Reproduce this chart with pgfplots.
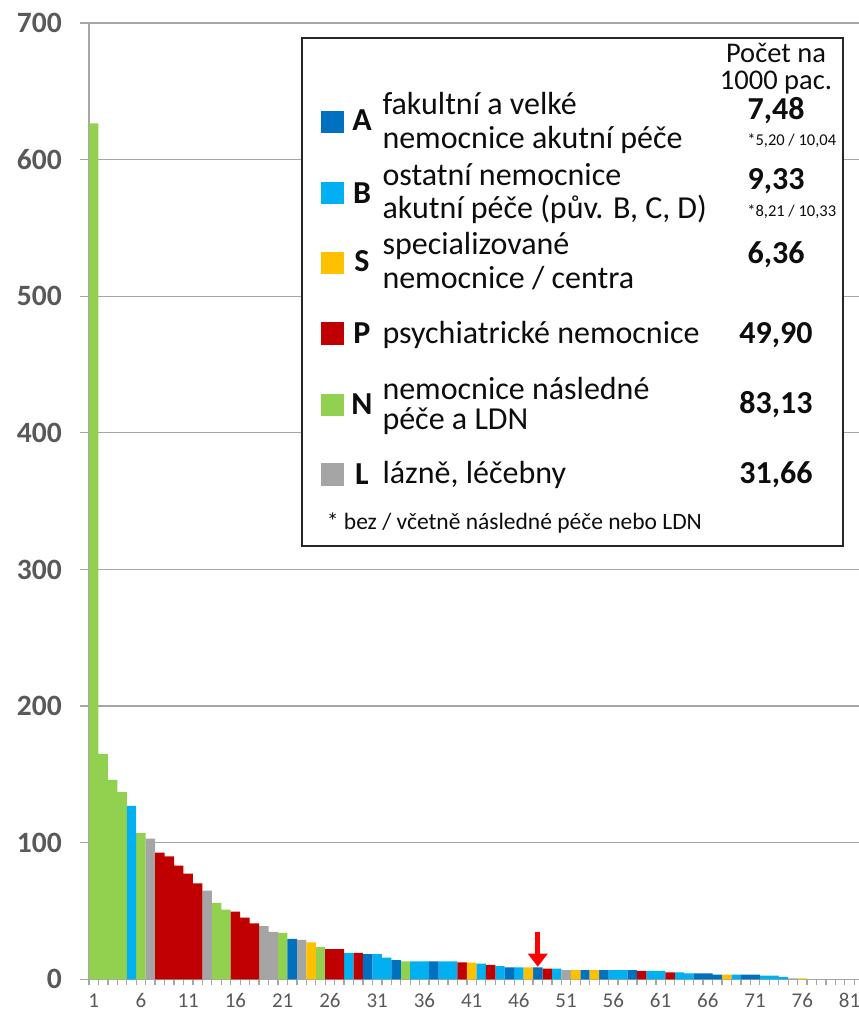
\documentclass[border=0pt]{standalone}
\usepackage{fontspec}
\setmainfont{Carlito}
\usepackage{pgfplots}
\pgfplotsset{compat=1.18}
\usetikzlibrary{arrows.meta}
\definecolor{cA}{HTML}{0070C0}
\definecolor{cB}{HTML}{00B0F0}
\definecolor{cS}{HTML}{FFC000}
\definecolor{cP}{HTML}{C00000}
\definecolor{cN}{HTML}{92D050}
\definecolor{cL}{HTML}{A5A5A5}
\definecolor{gridc}{HTML}{A6A6A6}
\definecolor{tickc}{HTML}{595959}
\definecolor{boxc}{HTML}{262626}
\definecolor{txtc}{HTML}{0D0D0D}
\newcommand\fmain{\fontsize{32}{34}\selectfont}
\newcommand\fnum{\fontsize{32}{34}\selectfont\bfseries}
\newcommand\fhead{\fontsize{28.5}{28}\selectfont}
\newcommand\fsmall{\fontsize{16.5}{18}\selectfont}
\newcommand\ffoot{\fontsize{23.5}{26}\selectfont}
\begin{document}
\begin{tikzpicture}
\begin{axis}[
  at={(89pt,33.7pt)}, anchor=south west,
  scale only axis, width=770pt, height=956.3pt,
  xmin=0.5, xmax=82, ymin=0, ymax=700,
  axis x line*=bottom, axis y line*=left,
  axis line style={draw=gridc, line width=1.3pt},
  ymajorgrids, grid style={draw=gridc, line width=1.3pt},
  ytick={0,100,...,700},
  xtick={1,6,...,81},
  minor xtick={0.5,1.5,...,81.5},
  tick align=outside,
  major tick length=9pt, minor tick length=6pt,
  tick style={draw=gridc, line width=1.3pt},
  major x tick style={draw=none},
  /pgf/number format/assume math mode=true,
  yticklabel style={font=\fontsize{29.5}{29}\selectfont\bfseries, text=tickc, anchor=east, inner sep=0pt, xshift=-18pt},
  xticklabel style={font=\fontsize{21}{21}\selectfont, text=tickc, anchor=north, inner sep=0pt, yshift=-5pt},
  clip=false,
]
\addplot[ybar, bar width=1, fill=cN, draw=none] coordinates {(1,626.6)(2,165)(3,146)(4,137)(6,107)(14,56)(15,51)(21,34)(25,23.5)(34,13.2)};
\addplot[ybar, bar width=1, fill=cB, draw=none] coordinates {(5,127)(28,19.4)(31,18.5)(32,15.8)(35,13.2)(36,13.2)(38,13.2)(39,13.2)(42,11.4)(44,9.7)(46,8.8)(50,7.8)(56,6.8)(57,6.8)(60,6.1)(61,6.1)(63,5.1)(64,4.4)(69,3.4)(72,2.7)(73,2.7)(74,1.7)};
\addplot[ybar, bar width=1, fill=cL, draw=none] coordinates {(7,103)(13,65)(19,39)(20,34.8)(23,28.8)(51,6.8)(75,0.7)};
\addplot[ybar, bar width=1, fill=cP, draw=none] coordinates {(8,92.7)(9,90)(10,83.2)(11,77.3)(12,70.3)(16,49.5)(17,45.1)(18,41)(26,22)(27,22)(29,19.4)(40,12.4)(43,10.5)(49,7.8)(59,6.1)(62,5.1)};
\addplot[ybar, bar width=1, fill=cA, draw=none] coordinates {(22,29.5)(30,18.5)(33,14)(37,13.2)(45,8.8)(48,8.8)(53,6.8)(55,6.8)(58,6.8)(65,4.4)(66,4.4)(67,3.4)(70,3.4)(71,3.4)};
\addplot[ybar, bar width=1, fill=cS, draw=none] coordinates {(24,27.1)(41,12.2)(47,8.8)(52,6.8)(54,6.8)(68,3.4)(76,0.7)};
\draw[red, line width=5pt, -{Triangle[width=19pt,length=13pt]}] (axis cs:48,34.8) -- (axis cs:48,9.2);
\end{axis}
% legend box
\draw[draw=boxc, line width=2.2pt, fill=white] (302.3pt,974.7pt) rectangle (842.7pt,467pt);
\fill[cA] (320.7pt,879.7pt) rectangle (344.3pt,902.3pt);
\fill[cB] (320.7pt,809pt) rectangle (344.3pt,831.3pt);
\fill[cS] (320.7pt,738.7pt) rectangle (344.3pt,761.3pt);
\fill[cP] (320.7pt,668pt) rectangle (344.3pt,690.7pt);
\fill[cN] (320.7pt,597pt) rectangle (344.3pt,619pt);
\fill[cL] (320.7pt,527pt) rectangle (344.3pt,549.7pt);
\begin{scope}[every node/.style={inner sep=0pt, text=txtc}]
\node[anchor=base, font=\fnum] at (362pt,882pt) {A};
\node[anchor=base, font=\fnum] at (362pt,809.7pt) {B};
\node[anchor=base, font=\fnum] at (362pt,741.3pt) {S};
\node[anchor=base, font=\fnum] at (362pt,669.7pt) {P};
\node[anchor=base, font=\fnum] at (362pt,598pt) {N};
\node[anchor=base, font=\fnum] at (362pt,528pt) {L};
\node[anchor=base west, font=\fmain] at (382.3pt,898.7pt) {fakultní a velké};
\node[anchor=base west, font=\fmain] at (382.3pt,864.7pt) {nemocnice akutní péče};
\node[anchor=base west, font=\fmain] at (382.3pt,827.3pt) {ostatní nemocnice};
\node[anchor=base west, font=\fmain] at (382.3pt,794pt) {akutní péče (pův. B, C, D)};
\node[anchor=base west, font=\fmain] at (382.3pt,758pt) {specializované};
\node[anchor=base west, font=\fmain] at (382.3pt,724pt) {nemocnice / centra};
\node[anchor=base west, font=\fmain] at (382.3pt,669.7pt) {psychiatrické nemocnice};
\node[anchor=base west, font=\fmain] at (382.3pt,613.7pt) {nemocnice následné};
\node[anchor=base west, font=\fmain] at (382.3pt,583.7pt) {péče a LDN};
\node[anchor=base west, font=\fmain] at (382.3pt,529pt) {lázně, léčebny};
\node[anchor=base west, font=\ffoot] at (326.7pt,483.7pt) {* bez / včetně následné péče nebo LDN};
\node[anchor=base, font=\fhead] at (776pt,950.7pt) {Počet na};
\node[anchor=base, font=\fhead] at (776pt,923pt) {1000 pac.};
\node[anchor=base, font=\fnum] at (776pt,893.7pt) {7,48};
\node[anchor=base, font=\fsmall] at (791.7pt,867pt) {*5,20 / 10,04};
\node[anchor=base, font=\fnum] at (776pt,823.7pt) {9,33};
\node[anchor=base, font=\fsmall] at (791.7pt,796.3pt) {*8,21 / 10,33};
\node[anchor=base, font=\fnum] at (776pt,749.7pt) {6,36};
\node[anchor=base, font=\fnum] at (776pt,669.7pt) {49,90};
\node[anchor=base, font=\fnum] at (776pt,599pt) {83,13};
\node[anchor=base, font=\fnum] at (776pt,529pt) {31,66};
\end{scope}
\pgfresetboundingbox
\useasboundingbox (0,0) rectangle (859pt,1013pt);
\end{tikzpicture}
\end{document}
